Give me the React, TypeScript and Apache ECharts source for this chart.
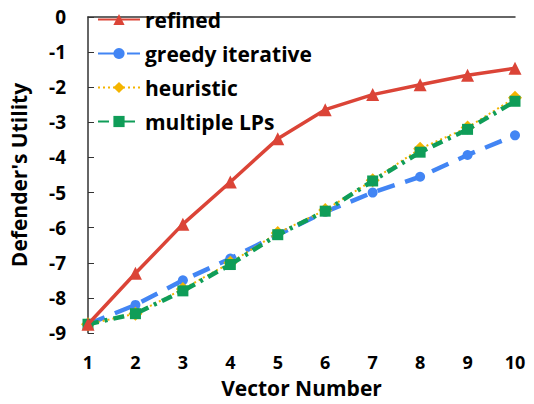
import React, { useEffect, useRef } from "react";
import * as echarts from "echarts";

const vectors = [1, 2, 3, 4, 5, 6, 7, 8, 9, 10];
const refined = [-8.75, -7.3, -5.9, -4.7, -3.47, -2.64, -2.21, -1.93, -1.66, -1.46];
const greedy = [-8.75, -8.2, -7.5, -6.88, -6.2, -5.55, -5.0, -4.55, -3.93, -3.37];
const heuristic = [-8.75, -8.45, -7.75, -7.0, -6.15, -5.5, -4.65, -3.75, -3.15, -2.3];
const multipleLPs = [-8.75, -8.45, -7.8, -7.05, -6.2, -5.53, -4.67, -3.85, -3.2, -2.4];
const seriesNames = ["refined", "greedy iterative", "heuristic", "multiple LPs"];

const FONT = "Open Sans";

export default function App() {
  const ref = useRef<HTMLDivElement>(null);
  useEffect(() => {
    if (!ref.current) return;
    const chart = echarts.init(ref.current, undefined, { renderer: "svg" });
    const pts = (arr: number[]) => arr.map((v, i) => [vectors[i], v]);
    chart.setOption({
      animation: false,
      backgroundColor: "#fff",
      grid: { left: 84, right: 19, top: 17, bottom: 67 },
      legend: {
        orient: "vertical",
        left: 92,
        top: 4,
        itemGap: 13,
        itemWidth: 42,
        itemHeight: 14,
        data: seriesNames,
        textStyle: { fontFamily: FONT, fontWeight: "bold", fontSize: 21, color: "#000" },
      },
      xAxis: {
        type: "value",
        min: 1,
        max: 10,
        interval: 1,
        name: "Vector Number",
        nameLocation: "middle",
        nameGap: 44,
        nameTextStyle: { fontFamily: FONT, fontWeight: "bold", fontSize: 21, color: "#000", lineHeight: 22 },
        axisLine: { lineStyle: { color: "#333", width: 1.5 } },
        axisTick: { show: false },
        splitLine: { show: false },
        axisLabel: { margin: 20, fontFamily: FONT, fontWeight: "bold", fontSize: 18, color: "#000", lineHeight: 18 },
      },
      yAxis: {
        type: "value",
        min: -9,
        max: 0,
        interval: 1,
        name: "Defender's Utility",
        nameLocation: "middle",
        nameGap: 59,
        nameTextStyle: { fontFamily: FONT, fontWeight: "bold", fontSize: 21, color: "#000" },
        axisLine: { show: true, lineStyle: { color: "#333", width: 1.5 } },
        axisTick: { show: true, inside: true, length: 6, lineStyle: { color: "#333" } },
        splitLine: { show: false },
        axisLabel: { margin: 22, fontFamily: FONT, fontWeight: "bold", fontSize: 19, color: "#000" },
      },
      series: [
        {
          name: seriesNames[0],
          type: "line",
          data: pts(refined),
          symbol: "triangle",
          symbolSize: 13,
          itemStyle: { color: "#DB4437" },
          lineStyle: { color: "#DB4437", width: 3.5 },
          z: 5,
        },
        {
          name: seriesNames[1],
          type: "line",
          data: pts(greedy),
          symbol: "circle",
          symbolSize: 10,
          itemStyle: { color: "#4285F4" },
          lineStyle: { color: "#4285F4", width: 4.5, type: [18, 11] },
          z: 2,
        },
        {
          name: seriesNames[2],
          type: "line",
          data: pts(heuristic),
          symbol: "diamond",
          symbolSize: 14,
          itemStyle: { color: "#F4B400" },
          lineStyle: { color: "#F4B400", width: 2, type: [2, 3] },
          z: 3,
        },
        {
          name: seriesNames[3],
          type: "line",
          data: pts(multipleLPs),
          symbol: "rect",
          symbolSize: 11,
          itemStyle: { color: "#0F9D58" },
          lineStyle: { color: "#0F9D58", width: 4.5, type: [11, 6, 3, 6] },
          z: 4,
        },
      ],
    });
    return () => chart.dispose();
  }, []);
  return (
    <div
      ref={ref}
      style={{ position: "absolute", left: 0, top: 0, width: 534, height: 404 }}
    />
  );
}
